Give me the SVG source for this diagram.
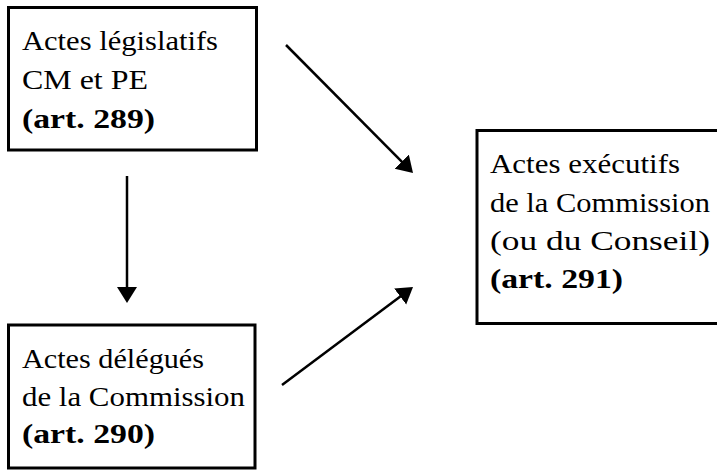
<svg xmlns="http://www.w3.org/2000/svg" width="717" height="471" viewBox="0 0 717 471">
<defs>
<marker id="ah" markerUnits="userSpaceOnUse" markerWidth="18" markerHeight="22" refX="6" refY="10" orient="auto" viewBox="0 0 18 22">
<path d="M0,0 L16,10 L0,20 z" fill="#000"/>
</marker>
<style>
.box{fill:#fff;stroke:#000;stroke-width:3}
.c{stroke:#000;stroke-width:2.5;fill:none;marker-end:url(#ah)}
</style>
</defs>
<rect width="717" height="471" fill="#fff"/>
<g font-family="'Liberation Serif', serif" font-size="27" fill="#000">
<g id="node-legislatifs">
<rect class="box" x="8.5" y="7.5" width="248" height="142.5"/>
<text x="22" y="50" textLength="196" lengthAdjust="spacingAndGlyphs">Actes législatifs</text>
<text x="22" y="89" textLength="126" lengthAdjust="spacingAndGlyphs">CM et PE</text>
<text x="22" y="128" font-weight="bold" textLength="133" lengthAdjust="spacingAndGlyphs">(art. 289)</text>
</g>
<g id="node-delegues">
<rect class="box" x="8.5" y="325" width="246.5" height="143"/>
<text x="22" y="368" textLength="182" lengthAdjust="spacingAndGlyphs">Actes délégués</text>
<text x="22" y="406" textLength="223" lengthAdjust="spacingAndGlyphs">de la Commission</text>
<text x="22" y="443" font-weight="bold" textLength="133" lengthAdjust="spacingAndGlyphs">(art. 290)</text>
</g>
<g id="node-executifs">
<rect class="box" x="477" y="130.5" width="250" height="193"/>
<text x="490" y="173" textLength="190" lengthAdjust="spacingAndGlyphs">Actes exécutifs</text>
<text x="490" y="212" textLength="220" lengthAdjust="spacingAndGlyphs">de la Commission</text>
<text x="490" y="250" textLength="220" lengthAdjust="spacingAndGlyphs">(ou du Conseil)</text>
<text x="490" y="288" font-weight="bold" textLength="133" lengthAdjust="spacingAndGlyphs">(art. 291)</text>
</g>
</g>
<g id="connectors">
<line class="c" x1="286" y1="45" x2="405.96" y2="165.9"/>
<line class="c" x1="127" y1="176" x2="127" y2="293"/>
<line class="c" x1="282" y1="385" x2="405" y2="293"/>
</g>
</svg>
